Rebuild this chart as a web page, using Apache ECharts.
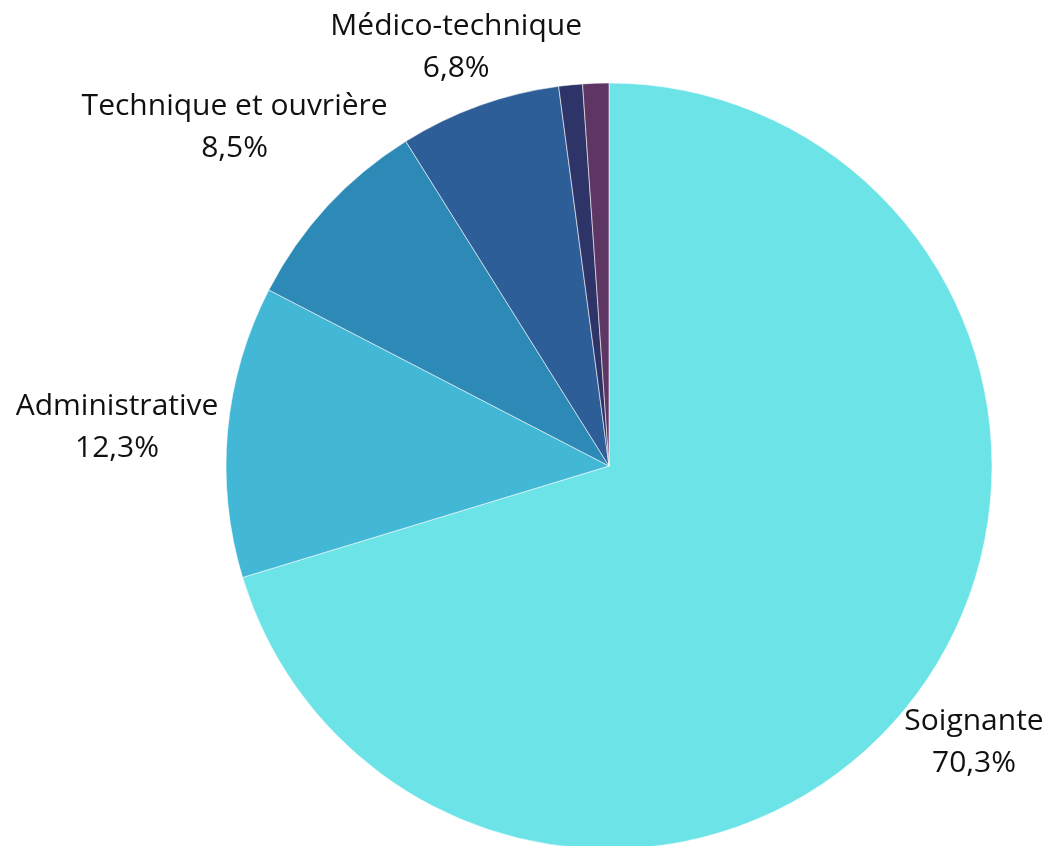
<!DOCTYPE html>
<html>
<head>
<meta charset="utf-8">
<script src="https://cdn.jsdelivr.net/npm/echarts@6/dist/echarts.min.js"></script>
<style>
  html, body { margin: 0; padding: 0; background: #fff; }
  #chart { width: 1063px; height: 846px; }
</style>
</head>
<body>
<div id="chart"></div>
<script>
const categories = ['Soignante', 'Administrative', 'Technique et ouvrière', 'Médico-technique', 'Socio-éducative', 'Autres']
const values = [70.3, 12.3, 8.5, 6.8, 1.0, 1.1]
const colors = ['#6be3e7', '#42b7d6', '#2d8ab7', '#2e5e97', '#2e3468', '#5e3664']
const showLabel = [true, true, true, true, false, false]

// pie geometry in pixels
const cx = 609, cy = 466, r = 383, gap = 10, shiftY = 6

const total = values.reduce((a, b) => a + b, 0)
const mids = []
let acc = 0
values.forEach(v => {
  mids.push((acc + v / 2) / total * 2 * Math.PI)
  acc += v
})

const chart = echarts.init(document.getElementById('chart'))
const option = {
  animation: false,
  series: [{
    type: 'pie',
    center: [cx, cy],
    radius: [0, r],
    startAngle: 90,
    clockwise: true,
    itemStyle: { borderColor: 'rgba(255,255,255,0.7)', borderWidth: 0.8 },
    label: {
      position: 'outside',
      fontFamily: 'Open Sans',
      fontSize: 30,
      lineHeight: 42,
      color: '#111',
      align: 'center',
      overflow: 'none',
      formatter: p => p.name + '\n' + p.value.toFixed(1).replace('.', ',') + '%'
    },
    labelLine: { show: false },
    labelLayout: params => {
      const a = mids[params.dataIndex]
      const dx = Math.sin(a), dy = -Math.cos(a)
      const w = params.labelRect.width, h = params.labelRect.height
      const ext = Math.sqrt(Math.pow(dx * w / 2, 2) + Math.pow(dy * h / 2, 2))
      const d = r + gap + ext
      return { x: cx + dx * d, y: cy + dy * d + shiftY, align: 'center', verticalAlign: 'middle' }
    },
    data: categories.map((name, i) => ({
      name: name,
      value: values[i],
      itemStyle: { color: colors[i] },
      label: { show: showLabel[i] }
    }))
  }]
}
chart.setOption(option)
</script>
</body>
</html>
